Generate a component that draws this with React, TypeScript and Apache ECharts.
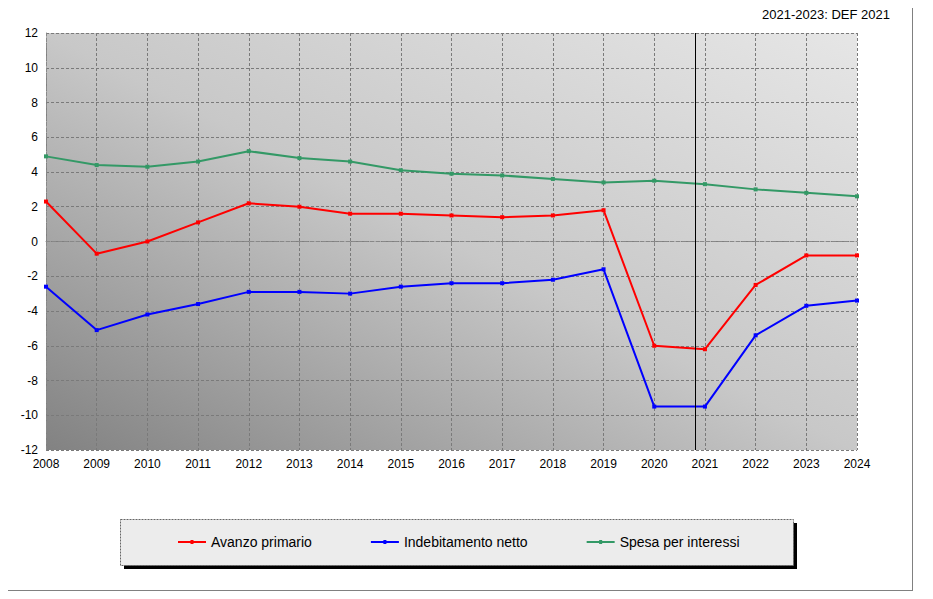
import React, { useEffect, useRef } from "react";
import * as echarts from "echarts";

const years = [2008, 2009, 2010, 2011, 2012, 2013, 2014, 2015, 2016, 2017, 2018, 2019, 2020, 2021, 2022, 2023, 2024];
const avanzoPrimario = [2.3, -0.7, 0.0, 1.1, 2.2, 2.0, 1.6, 1.6, 1.5, 1.4, 1.5, 1.8, -6.0, -6.2, -2.5, -0.8, -0.8];
const indebitamentoNetto = [-2.6, -5.1, -4.2, -3.6, -2.9, -2.9, -3.0, -2.6, -2.4, -2.4, -2.2, -1.6, -9.5, -9.5, -5.4, -3.7, -3.4];
const spesaInteressi = [4.9, 4.4, 4.3, 4.6, 5.2, 4.8, 4.6, 4.1, 3.9, 3.8, 3.6, 3.4, 3.5, 3.3, 3.0, 2.8, 2.6];
const seriesNames = ["Avanzo primario", "Indebitamento netto", "Spesa per interessi"];
const seriesColors = ["#ff0000", "#0000ff", "#339966"];
const markerYear = 2020.8;
const cornerNote = "2021-2023: DEF 2021";

export default function App() {
  const ref = useRef<HTMLDivElement>(null);
  useEffect(() => {
    if (!ref.current) return;
    const chart = echarts.init(ref.current, undefined, { renderer: "svg" });
    const font = "'Liberation Sans', Arial, sans-serif";
    const allData = [avanzoPrimario, indebitamentoNetto, spesaInteressi];
    const edge = { fill: "#808080" };
    chart.setOption({
      animation: false,
      backgroundColor: "#ffffff",
      textStyle: { fontFamily: font },
      grid: {
        left: 46,
        right: 76,
        top: 33,
        bottom: 149,
        show: true,
        borderWidth: 0,
        backgroundColor: new echarts.graphic.LinearGradient(1, 0, 0, 1, [
          { offset: 0, color: "#e6e6e6" },
          { offset: 0.5, color: "#c8c8c8" },
          { offset: 1, color: "#828282" },
        ]),
      },
      graphic: {
        elements: [
          { type: "rect", silent: true, shape: { x: 5, y: 5, width: 908, height: 2 }, style: edge, z: 100 },
          { type: "rect", silent: true, shape: { x: 5, y: 590, width: 908, height: 1 }, style: edge, z: 100 },
          { type: "rect", silent: true, shape: { x: 5, y: 5, width: 2, height: 586 }, style: edge, z: 100 },
          { type: "rect", silent: true, shape: { x: 912, y: 5, width: 1, height: 586 }, style: edge, z: 100 },
          {
            type: "text",
            right: 43,
            top: 8,
            style: { text: cornerNote, font: `13px ${font}`, fill: "#000" },
          },
          {
            type: "rect",
            shape: { x: 124, y: 523, width: 673, height: 46 },
            style: { fill: "#000" },
            z: 1,
          },
          {
            type: "rect",
            shape: { x: 120.5, y: 519.5, width: 673, height: 46 },
            style: { fill: "#ececec", stroke: "#666", lineWidth: 1, lineDash: [2, 1] },
            z: 2,
          },
        ],
      },
      legend: {
        left: 178,
        top: 535,
        padding: 0,
        itemGap: 59,
        itemWidth: 28,
        itemHeight: 5,
        icon: "path://M0,1.5L28,1.5L28,3.5L0,3.5Z M12.5,0.5L15.5,0.5L15.5,4.5L12.5,4.5Z",
        textStyle: { fontSize: 14, color: "#000", fontFamily: font },
        data: seriesNames,
        z: 10,
      },
      xAxis: {
        type: "value",
        min: years[0],
        max: years[years.length - 1],
        interval: 1,
        axisLine: { show: true, lineStyle: { color: "#888", type: "dashed" } },
        axisTick: { show: true, length: 4, lineStyle: { color: "#888" } },
        axisLabel: {
          color: "#000",
          fontSize: 12,
          fontFamily: font,
          margin: 8,
          formatter: (v: number) => String(v),
        },
        splitLine: { show: true, lineStyle: { color: "#7a7a7a", type: [3, 2], width: 1 } },
      },
      yAxis: {
        type: "value",
        min: -12,
        max: 12,
        interval: 2,
        axisLine: { show: true, lineStyle: { color: "#888", type: "dashed" } },
        axisTick: { show: false },
        axisLabel: { color: "#000", fontSize: 12, fontFamily: font, margin: 8 },
        splitLine: { show: true, lineStyle: { color: "#7a7a7a", type: [3, 2], width: 1 } },
      },
      series: seriesNames.map((name, i) => ({
        name,
        type: "line",
        data: years.map((y, j) => [y, allData[i][j]]),
        symbol: "rect",
        symbolSize: 4,
        color: seriesColors[i],
        lineStyle: { width: 2, color: seriesColors[i] },
        itemStyle: { color: seriesColors[i] },
        z: 3,
        markLine:
          i === 0
            ? {
                silent: true,
                symbol: ["none", "none"],
                label: { show: false },
                lineStyle: { color: "#000", type: "solid", width: 1 },
                data: [{ xAxis: markerYear }],
              }
            : undefined,
      })),
    });
    return () => chart.dispose();
  }, []);
  return <div ref={ref} style={{ width: 933, height: 599, margin: -8 }} />;
}
